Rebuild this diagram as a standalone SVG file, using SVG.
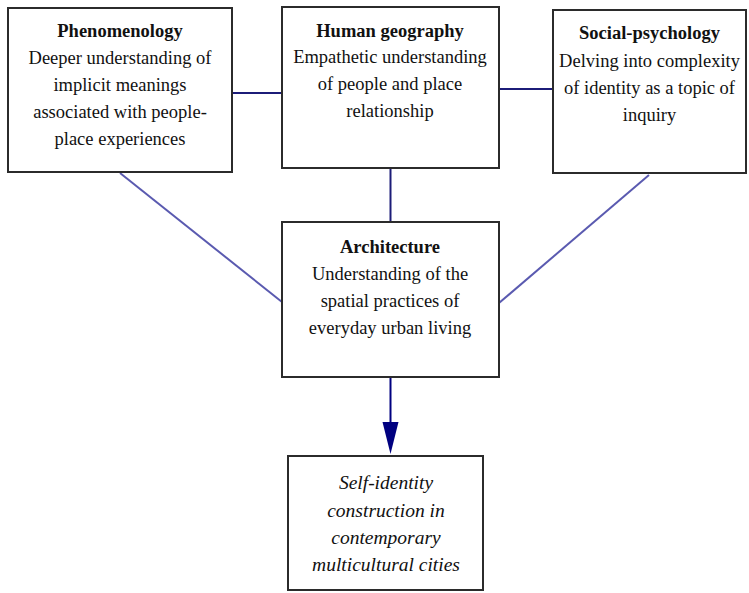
<svg xmlns="http://www.w3.org/2000/svg" width="749" height="593" viewBox="0 0 749 593">
<style>
.box{fill:#fff;stroke:#2b2b2b;stroke-width:2}
.h{stroke:#1c1c78;stroke-width:2;fill:none}
.d{stroke:#5a5ab0;stroke-width:2;fill:none}
.a{stroke:#000080;stroke-width:2;fill:none}
text{font-family:"Liberation Serif",serif;font-size:18.5px;text-anchor:middle;fill:#111}
.t{font-weight:bold}
.it{font-style:italic;font-size:19.5px}
</style>
<rect width="749" height="593" fill="#fff"/>
<g id="connectors">
<line class="h" x1="232" y1="93" x2="282" y2="93"/>
<line class="h" x1="499" y1="89" x2="553" y2="89"/>
<line class="h" x1="390.5" y1="168" x2="390.5" y2="222"/>
<line class="d" x1="120" y1="173" x2="282" y2="302"/>
<line class="d" x1="649" y1="175" x2="499" y2="303"/>
<line class="a" x1="390.5" y1="377" x2="390.5" y2="440"/>
<path d="M382.5,422 L398.5,422 L390.5,454 Z" fill="#000080"/>
</g>
<g id="phenomenology">
<rect class="box" x="8" y="8" width="224" height="164"/>
<text class="t" x="120" y="37">Phenomenology</text>
<text x="120" y="64">Deeper understanding of</text>
<text x="120" y="91">implicit meanings</text>
<text x="120" y="118">associated with people-</text>
<text x="120" y="145">place experiences</text>
</g>
<g id="human-geography">
<rect class="box" x="282" y="7" width="217" height="161"/>
<text class="t" x="390" y="37">Human geography</text>
<text x="390" y="63">Empathetic understanding</text>
<text x="390" y="90">of people and place</text>
<text x="390" y="117">relationship</text>
</g>
<g id="social-psychology">
<rect class="box" x="553" y="10" width="193" height="163"/>
<text class="t" x="649.5" y="39">Social-psychology</text>
<text x="649.5" y="67">Delving into complexity</text>
<text x="649.5" y="94">of identity as a topic of</text>
<text x="649.5" y="121">inquiry</text>
</g>
<g id="architecture">
<rect class="box" x="282" y="222" width="217" height="155"/>
<text class="t" x="390" y="253">Architecture</text>
<text x="390" y="280">Understanding of the</text>
<text x="390" y="307">spatial practices of</text>
<text x="390" y="334">everyday urban living</text>
</g>
<g id="self-identity">
<rect class="box" x="288" y="456" width="195" height="134"/>
<text class="it" x="386" y="489">Self-identity</text>
<text class="it" x="386" y="517">construction in</text>
<text class="it" x="386" y="544">contemporary</text>
<text class="it" x="386" y="571">multicultural cities</text>
</g>
</svg>
